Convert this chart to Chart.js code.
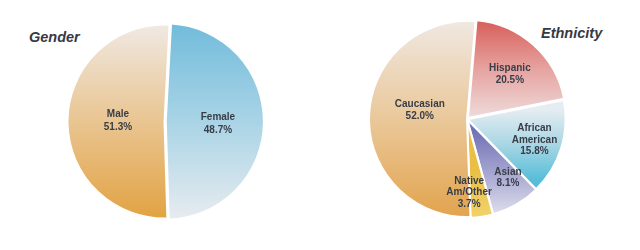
<!DOCTYPE html>
<html>
<head>
<meta charset="utf-8">
<script src="https://cdn.jsdelivr.net/npm/chart.js@4.4.1/dist/chart.umd.min.js"></script>
<style>
  body { margin: 0; width: 640px; height: 250px; background: #fff; position: relative; overflow: hidden; font-family: "Liberation Sans", Arial, sans-serif; }
  .title { position: absolute; font-weight: bold; font-style: italic; font-size: 14.5px; color: #353a44; }
  .box { position: absolute; }
</style>
</head>
<body>
<div class="title" style="left:29px; top:29px;">Gender</div>
<div class="title" style="left:541px; top:25px;">Ethnicity</div>
<div class="box" style="left:63.5px; top:21px; width:201px; height:201px;"><canvas id="chart-gender"></canvas></div>
<div class="box" style="left:365px; top:17px; width:204px; height:204px;"><canvas id="chart-ethnicity"></canvas></div>
<script>
// data
const genderLabels = [['Female'], ['Male']];
const genderValues = [48.7, 51.3];

const ethnicityLabels = [['Hispanic'], ['African', 'American'], ['Asian'], ['Native', 'Am/Other'], ['Caucasian']];
const ethnicityValues = [20.5, 15.8, 8.1, 3.7, 52.0];

// styling per slice: gradient stops (fraction of chart height) and label placement
const genderStyle = [
  { from: 0, to: 1, stops: ['#70bbdb', '#a9d4e6', '#e9ecf0'], offset: 5, r: 0.5, shift: 2 },
  { from: 0, to: 1, stops: ['#f0eae6', '#e9c591', '#e2a140'], offset: 0, r: 0.48, shift: 0 }
];
const ethnicityStyle = [
  { from: 0, to: 0.52, stops: ['#d65853', '#e6a3a0', '#eee0e0'], offset: 6, r: 0.57, shift: 2 },
  { from: 0.45, to: 0.8, stops: ['#e6edf2', '#a8d6e4', '#56bdd8'], offset: 2, r: 0.7, shift: 0 },
  { from: 0.55, to: 1, stops: ['#6f70b5', '#a9a9d2', '#e8e8f1'], offset: 2, r: 0.71, shift: -5 },
  { from: 0.75, to: 1, stops: ['#e9bf45', '#eec95a', '#f1d46e'], offset: 2, r: 0.73, shift: 7 },
  { from: 0, to: 1, stops: ['#f0e9e4', '#eac89a', '#e2a24a'], offset: 0, r: 0.49, shift: 9 }
];

function gradientFill(style) {
  return (c) => {
    const s = style[c.dataIndex];
    const area = c.chart.chartArea;
    if (!area) return s.stops[1];
    const h = area.bottom - area.top;
    const g = c.chart.ctx.createLinearGradient(0, area.top + h * s.from, 0, area.top + h * s.to);
    g.addColorStop(0, s.stops[0]);
    g.addColorStop(0.5, s.stops[1]);
    g.addColorStop(1, s.stops[2]);
    return g;
  };
}

const sliceLabels = {
  id: 'sliceLabels',
  afterDatasetsDraw(chart, args, opts) {
    const { ctx } = chart;
    const meta = chart.getDatasetMeta(0);
    const values = chart.data.datasets[0].data;
    ctx.save();
    ctx.font = 'bold 10px "Liberation Sans", Arial, sans-serif';
    ctx.fillStyle = '#383d48';
    ctx.textAlign = 'center';
    ctx.textBaseline = 'middle';
    meta.data.forEach((arc, i) => {
      const s = opts.style[i];
      const mid = (arc.startAngle + arc.endAngle) / 2 + s.shift * Math.PI / 180;
      const dist = s.offset + s.r * arc.outerRadius;
      const x = arc.x + Math.cos(mid) * dist;
      const y = arc.y + Math.sin(mid) * dist;
      const lines = chart.data.labels[i].concat([values[i].toFixed(1) + '%']);
      const top = y - (lines.length - 1) * opts.lineHeight / 2;
      lines.forEach((t, k) => ctx.fillText(t, x, top + k * opts.lineHeight));
    });
    ctx.restore();
  }
};

function makePie(id, labels, values, style, rotation, lineHeight) {
  return new Chart(document.getElementById(id), {
    type: 'pie',
    data: {
      labels: labels,
      datasets: [{
        data: values,
        backgroundColor: gradientFill(style),
        borderColor: '#ffffff',
        borderWidth: 2,
        offset: style.map((s) => s.offset)
      }]
    },
    options: {
      responsive: true,
      maintainAspectRatio: false,
      animation: false,
      rotation: rotation,
      layout: { padding: 0 },
      plugins: {
        legend: { display: false },
        tooltip: { enabled: false },
        sliceLabels: { style: style, lineHeight: lineHeight }
      }
    },
    plugins: [sliceLabels]
  });
}

makePie('chart-gender', genderLabels, genderValues, genderStyle, 3, 13);
makePie('chart-ethnicity', ethnicityLabels, ethnicityValues, ethnicityStyle, 5, 11.5);
</script>
</body>
</html>
